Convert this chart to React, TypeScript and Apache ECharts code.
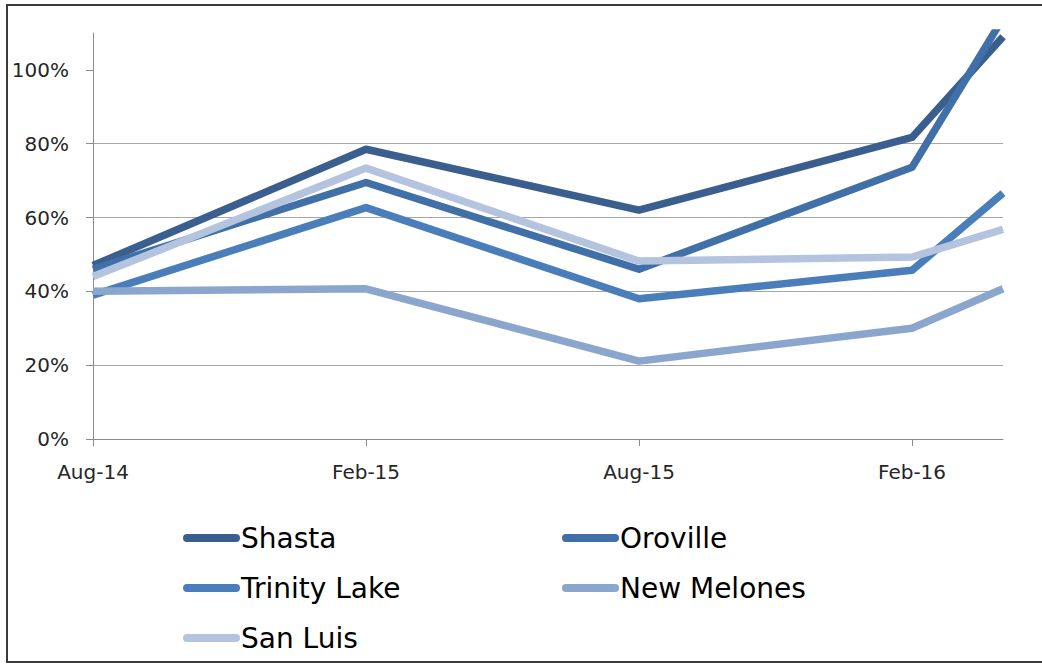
import React, { useEffect, useRef } from "react";
import * as echarts from "echarts";

// Time positions (months since Aug-14) and their names
const periods = ["Aug-14", "Feb-15", "Aug-15", "Feb-16", "Apr-16"];
const monthIndex = [0, 6, 12, 18, 20];
const xTickValues = [0, 6, 12, 18];
const xTickLabels = ["Aug-14", "Feb-15", "Aug-15", "Feb-16"];
const yTickValues = [0, 20, 40, 60, 80, 100];

// Reservoir storage (% of historical average)
const shasta = [47, 78.5, 62, 81.7, 109];
const oroville = [46, 69.5, 46, 73.6, 114];
const trinityLake = [39, 62.7, 38, 45.7, 66.6];
const newMelones = [40, 40.7, 21.1, 30, 40.7];
const sanLuis = [44, 73.4, 48.2, 49.3, 56.8];

const seriesNames = ["Shasta", "Oroville", "Trinity Lake", "New Melones", "San Luis"];
const seriesValues = [shasta, oroville, trinityLake, newMelones, sanLuis];
const seriesColors = ["#3A5F8F", "#4170A8", "#4A7EBB", "#8BA6CD", "#B4C4DF"];

const legendLeft = ["Shasta", "Trinity Lake", "San Luis"];
const legendRight = ["Oroville", "New Melones"];

const FONT = "DejaVu Sans";

export default function App() {
  const ref = useRef<HTMLDivElement>(null);

  useEffect(() => {
    if (!ref.current) return;
    const chart = echarts.init(ref.current, undefined, { renderer: "svg" });

    const series = seriesNames.map((name, i) => ({
      name,
      type: "line",
      data: seriesValues[i].map((v, j) => [monthIndex[j], v]),
      showSymbol: false,
      symbol: "none",
      clip: true,
      lineStyle: { color: seriesColors[i], width: 7.5, join: "round", cap: "butt" },
      itemStyle: { color: seriesColors[i] },
      emphasis: { disabled: true },
    }));

    const legendCommon = {
      orient: "vertical",
      top: 519,
      itemWidth: 49,
      itemHeight: 28,
      itemGap: 22,
      selectedMode: false,
      lineStyle: { width: 8, cap: "round" },
      itemStyle: { color: "transparent", borderColor: "transparent", borderWidth: 0, opacity: 0 },
      textStyle: { fontFamily: FONT, fontSize: 28, color: "#000" },
    };

    chart.setOption({
      animation: false,
      backgroundColor: "#ffffff",
      color: seriesColors,
      grid: { left: 93, right: 39, top: 33, bottom: 225, containLabel: false },
      xAxis: {
        type: "value",
        min: 0,
        max: 20,
        interval: 6,
        axisLine: { show: true, lineStyle: { color: "#8c8c8c", width: 1 } },
        axisTick: {
          show: true,
          length: 7,
          customValues: xTickValues,
          lineStyle: { color: "#8c8c8c" },
        },
        axisLabel: {
          customValues: xTickValues,
          margin: 23,
          fontFamily: FONT,
          fontSize: 20,
          color: "#262626",
          formatter: (v: number) => {
            const k = xTickValues.indexOf(v);
            return k >= 0 ? xTickLabels[k] : "";
          },
        },
        splitLine: { show: false },
      },
      yAxis: {
        type: "value",
        min: 0,
        max: 110,
        interval: 20,
        axisLine: { show: true, lineStyle: { color: "#8c8c8c", width: 1 } },
        axisTick: {
          show: true,
          length: 7,
          customValues: yTickValues,
          lineStyle: { color: "#8c8c8c" },
        },
        axisLabel: {
          customValues: yTickValues,
          margin: 24,
          fontFamily: FONT,
          fontSize: 20,
          color: "#262626",
          formatter: (v: number) => `${v}%`,
        },
        splitLine: {
          show: true,
          showMinLine: false,
          showMaxLine: false,
          lineStyle: { color: "#a6a6a6", width: 1 },
        },
      },
      legend: [
        { ...legendCommon, left: 178, data: legendLeft },
        { ...legendCommon, left: 557, data: legendRight },
      ],
      graphic: [
        {
          type: "rect",
          shape: { x: 7, y: 5, width: 1050, height: 657 },
          style: { fill: "none", stroke: "#3a3a3a", lineWidth: 2 },
          silent: true,
          z: 100,
        },
      ],
      series,
    });

    return () => chart.dispose();
  }, []);

  return (
    <div
      ref={ref}
      style={{ position: "fixed", left: 0, top: 0, width: 1042, height: 664, background: "#fff" }}
    />
  );
}
